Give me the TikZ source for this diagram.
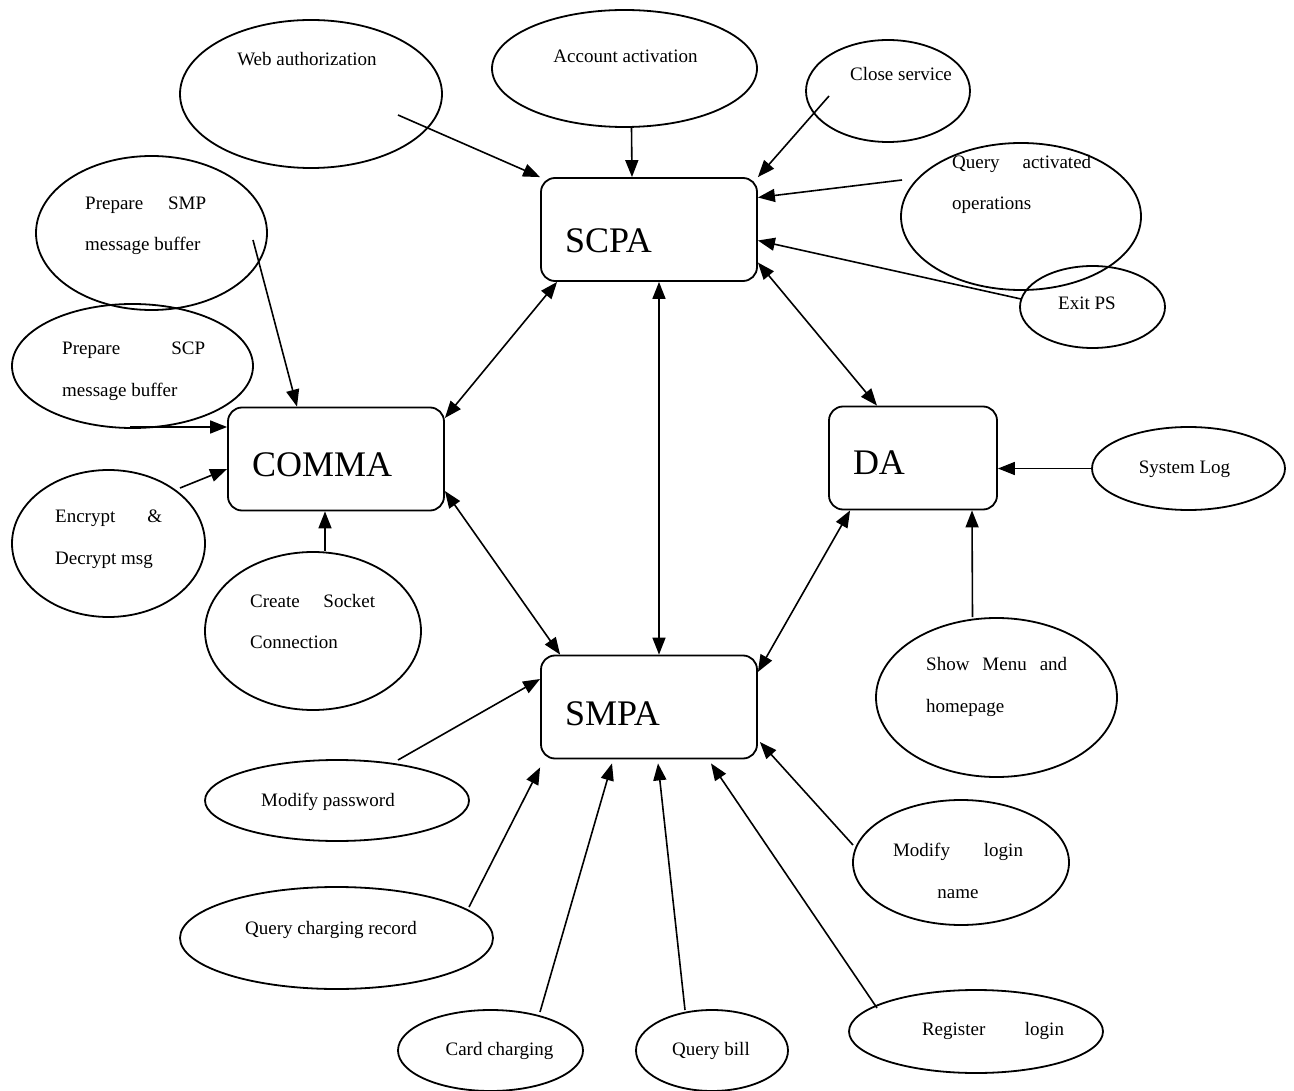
\documentclass[tikz,border=0pt]{standalone}
\usepackage{fontspec}
\setmainfont{Liberation Serif}
\usetikzlibrary{arrows.meta,shapes.geometric,calc}
\begin{document}
\begin{tikzpicture}[x=1pt,y=-1pt,
  oval/.style={ellipse,draw,line width=1.8pt,inner sep=0pt},
  agent/.style={draw,line width=1.8pt,rounded corners=14pt,minimum width=216pt,
    minimum height=103pt,inner sep=0pt,text width=168pt,align=left,
    text depth=0pt,font=\fontsize{36}{40}\selectfont},
  txt/.style={font=\fontsize{19}{41.5}\selectfont,align=left,inner sep=0pt},
  flow/.style={line width=1.6pt,-{Triangle[length=17pt,width=13pt]}},
  link/.style={line width=1.6pt,{Triangle[length=17pt,width=13pt]}-{Triangle[length=17pt,width=13pt]}}]

\fill[white] (0,0) rectangle (1294,1091);
\useasboundingbox (0,0) rectangle (1294,1091);

% agents (text height lowers the name inside its box)
\node[agent,text height=46pt] (scpa)  at (649,229.5) {SCPA};
\node[agent,text height=34pt] (comma) at (336,459)   {COMMA};
\node[agent,text height=34pt,minimum width=168pt,text width=120pt] (da) at (913,458) {DA};
\node[agent,text height=36pt] (smpa)  at (649,707)   {SMPA};

% operations
\node[oval,minimum width=262pt,minimum height=148pt] (web)    at (311,94)      {};
\node[oval,minimum width=265pt,minimum height=117pt] (acct)   at (624.5,68.5)  {};
\node[oval,minimum width=164pt,minimum height=102pt] (close)  at (888,91)      {};
\node[oval,minimum width=240pt,minimum height=147pt] (qact)   at (1021,216.5)  {};
\node[oval,minimum width=145pt,minimum height=82pt]  (exitps) at (1092.5,307)  {};
\node[oval,minimum width=231pt,minimum height=154pt] (psmp)   at (151.5,233)   {};
\node[oval,minimum width=241pt,minimum height=124pt] (pscp)   at (132.5,366)   {};
\node[oval,minimum width=193pt,minimum height=147pt] (enc)    at (108.5,543.5) {};
\node[oval,minimum width=216pt,minimum height=158pt] (sock)   at (313,631)     {};
\node[oval,minimum width=193pt,minimum height=83pt]  (syslog) at (1188.5,468.5){};
\node[oval,minimum width=241pt,minimum height=159pt] (menu)   at (996.5,697.5) {};
\node[oval,minimum width=264pt,minimum height=81pt]  (modpw)  at (337,800.5)   {};
\node[oval,minimum width=313pt,minimum height=102pt] (qcr)    at (336.5,938)   {};
\node[oval,minimum width=185pt,minimum height=81pt]  (card)   at (490.5,1050.5){};
\node[oval,minimum width=152pt,minimum height=81pt]  (qbill)  at (712,1050.5)  {};
\node[oval,minimum width=216pt,minimum height=125pt] (modln)  at (961,862.5)   {};
\node[oval,minimum width=254pt,minimum height=83pt]  (reg)    at (976,1031.5)  {};

% operation texts
\node[txt] (webT)    at (307,59)    {Web authorization};
\node[txt] (acctT)   at (625.5,56)  {Account activation};
\node[txt] (closeT)  at (901,74)    {Close service};
\node[txt,anchor=west] (qactT) at (952,184.5)
  {\makebox[139pt][s]{Query\hfill activated}\\operations};
\node[txt] (exitT)   at (1087,303)  {Exit PS};
\node[txt,anchor=west] (psmpT) at (85,226)
  {\makebox[121pt][s]{Prepare\hfill SMP}\\message buffer};
\node[txt,anchor=west] (pscpT) at (62,371.5)
  {\makebox[143pt][s]{Prepare\hfill SCP}\\message buffer};
\node[txt,anchor=west] (encT) at (55,539)
  {\makebox[107pt][s]{Encrypt\hfill\&}\\Decrypt msg};
\node[txt,anchor=west] (sockT) at (250,621.5)
  {\makebox[125pt][s]{Create\hfill Socket}\\Connection};
\node[txt] (sysT)    at (1184.5,469) {System Log};
\node[txt,anchor=west] (menuT) at (926,687)
  {\makebox[141pt][s]{Show\hfill Menu\hfill and}\\homepage};
\node[txt] (modpwT)  at (328,802)   {Modify password};
\node[txt] (qcrT)    at (331,930)   {Query charging record};
\node[txt] (cardT)   at (499.5,1051) {Card charging};
\node[txt] (qbillT)  at (711,1051)  {Query bill};
\node[txt,align=center] (modlnT) at (958,871)
  {\makebox[130pt][s]{Modify\hfill login}\\name};
\node[txt] (regT) at (993,1031) {\makebox[142pt][s]{Register\hfill login}};

% connector tails inside or on the ovals
\coordinate (webO)   at (398,115);
\coordinate (closeO) at (829,96);
\coordinate (qactO)  at (902,180);
\coordinate (exitO)  at (1021,299);
\coordinate (psmpO)  at (253,240);
\coordinate (pscpO)  at (130,427);
\coordinate (encO)   at (180,488);
\coordinate (modpwO) at (398,760);
\coordinate (qcrO)   at (469,907);
\coordinate (cardO)  at (540,1012);
\coordinate (qbillO) at (685,1010);
\coordinate (regO)   at (877,1008);
\coordinate (modlnO) at (853,845);

% into SCPA
\draw[flow] (webO) -- (scpa.north west);
\draw[flow] ($(acct.south)+(7,0)$) -- ($(scpa.north)+(-17,0)$);
\draw[flow] (closeO) -- (scpa.north east);
\draw[flow] (qactO) -- ($(scpa.east)+(0,-32)$);
\draw[flow] (exitO) -- ($(scpa.east)+(0,11)$);

% between agents
\draw[link] ($(scpa.east)+(0,33)$) -- ($(da.north)+(-36,0)$);
\draw[link] ($(scpa.south)+(10,0)$) -- ($(smpa.north)+(10,0)$);
\draw[link] ($(scpa.south west)+(17,0)$) -- ($(comma.east)+(0,-41)$);
\draw[link] ($(comma.east)+(0,32)$) -- ($(smpa.north west)+(20,0)$);
\draw[link] ($(da.south west)+(22,0)$) -- ($(smpa.east)+(0,-35)$);

% into COMMA
\draw[flow] (psmpO) -- ($(comma.north)+(-39,0)$);
\draw[flow] (pscpO) -- ($(comma.west)+(0,-32)$);
\draw[flow] (encO) -- ($(comma.west)+(0,10)$);
\draw[flow] ($(sock.north)+(12,0)$) -- ($(comma.south)+(-11,0)$);

% into DA
\draw[flow] (syslog.west) -- (syslog.west -| da.east);
\draw[flow] ($(menu.north)+(-24,0)$) -- ($(da.south)+(59,0)$);

% into SMPA
\draw[flow] (modpwO) -- ($(smpa.west)+(0,-28)$);
\draw[flow] (qcrO) -- ($(smpa.south west)+(0,8)$);
\draw[flow] (cardO) -- ($(smpa.south)+(-37,4)$);
\draw[flow] (qbillO) -- ($(smpa.south)+(9,4)$);
\draw[flow] (regO) -- ($(smpa.south)+(62,4)$);
\draw[flow] (modlnO) -- ($(smpa.east)+(2,35)$);
\end{tikzpicture}
\end{document}
